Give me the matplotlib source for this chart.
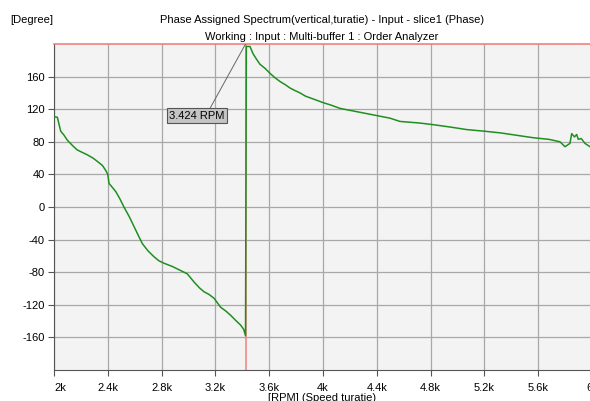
import matplotlib
matplotlib.use("Agg")
import matplotlib.pyplot as plt

plt.rcParams["font.family"] = ["Liberation Sans", "DejaVu Sans"]
plt.rcParams["axes.unicode_minus"] = False

# green phase trace (rpm, degree)
rpm = [2000, 2025, 2050, 2075, 2099, 2140, 2173, 2210, 2248, 2290, 2322, 2360,
       2384, 2400, 2409, 2459, 2490, 2520, 2560, 2595, 2630, 2657, 2700, 2743,
       2780, 2818, 2880, 2942, 2991, 3041, 3080, 3115, 3150, 3190, 3239, 3280,
       3314, 3350, 3388, 3410, 3424,
       3430, 3457, 3480, 3507, 3532, 3570, 3606, 3640, 3680, 3720, 3755, 3790,
       3829, 3870, 3903, 4002, 4060, 4126, 4250, 4374, 4498, 4572, 4721, 4820,
       4950, 5068, 5200, 5316, 5440, 5563, 5680, 5762, 5799, 5836, 5849, 5870,
       5886, 5898, 5920, 5948, 5985]
phase = [111, 110, 93, 88, 82, 75, 70, 67, 64, 60, 56, 51,
         45, 40, 29, 19, 10, 0, -12, -24, -36, -45, -54, -61,
         -66, -69, -73, -78, -82, -92, -99, -104, -107, -112, -123, -128,
         -133, -139, -145, -150, -158,
         197, 197, 188, 181, 175, 170, 164, 159, 154, 150, 146, 143,
         140, 136, 134, 128, 125, 121, 117, 113, 109, 105, 103, 101,
         98, 95, 93, 91, 88, 85, 83, 80, 74, 78, 90, 86,
         89, 83, 84, 78, 74]

cursor_rpm = 3424
cursor_label = "3.424 RPM"
xticks = [2000, 2400, 2800, 3200, 3600, 4000, 4400, 4800, 5200, 5600, 6000]
xticklabels = ["2k", "2.4k", "2.8k", "3.2k", "3.6k", "4k", "4.4k", "4.8k", "5.2k", "5.6k", "6k"]
yticks = [-160, -120, -80, -40, 0, 40, 80, 120, 160]

fig = plt.figure(figsize=(5.9, 4.01), dpi=100)
ax = fig.add_axes([54 / 590, 31 / 401, 538 / 590, 326 / 401])
ax.set_facecolor("#f3f3f3")

ax.plot(rpm, phase, color="#1f8f1f", lw=1.1, zorder=3)
ax.axvline(cursor_rpm, color="#f08080", lw=1.1, zorder=2)

ax.set_xlim(2000, 6000)
ax.set_ylim(-200, 200)
ax.set_xticks(xticks)
ax.set_xticklabels(xticklabels)
ax.set_yticks(yticks)
ax.grid(True, color="#a8a8a8", lw=0.9)
ax.set_axisbelow(True)
ax.tick_params(labelsize=8, length=4.5, color="#555555")
ax.tick_params(axis="x", pad=5)
ax.tick_params(axis="y", pad=2)
ax.get_xticklabels()[0].set_horizontalalignment("left")

for s in ["left", "bottom"]:
    ax.spines[s].set_color("#555555")
ax.spines["right"].set_visible(False)
ax.spines["top"].set_color("#f08080")
ax.spines["top"].set_linewidth(1.2)

# cursor readout box with leader line
ax.plot([3160, cursor_rpm], [121, 200], color="#666666", lw=0.7, zorder=4)
ax.text(3063, 112, cursor_label, fontsize=8, ha="center", va="center", zorder=5,
        bbox=dict(boxstyle="square,pad=0.2", fc="#c4c4c4", ec="#555555", lw=0.8))

fig.text(10 / 590, 1 - 20 / 401, "[Degree]", fontsize=8, va="center")
fig.text(322 / 590, 1 - 20 / 401, "Phase Assigned Spectrum(vertical,turatie) - Input - slice1 (Phase)",
         fontsize=8, ha="center", va="center")
fig.text(322 / 590, 1 - 37 / 401, "Working : Input : Multi-buffer 1 : Order Analyzer",
         fontsize=8, ha="center", va="center")
fig.text(322 / 590, 1 - 398 / 401, "[RPM] (Speed turatie)", fontsize=8, ha="center", va="center")

fig.savefig("out.png", dpi=100)
